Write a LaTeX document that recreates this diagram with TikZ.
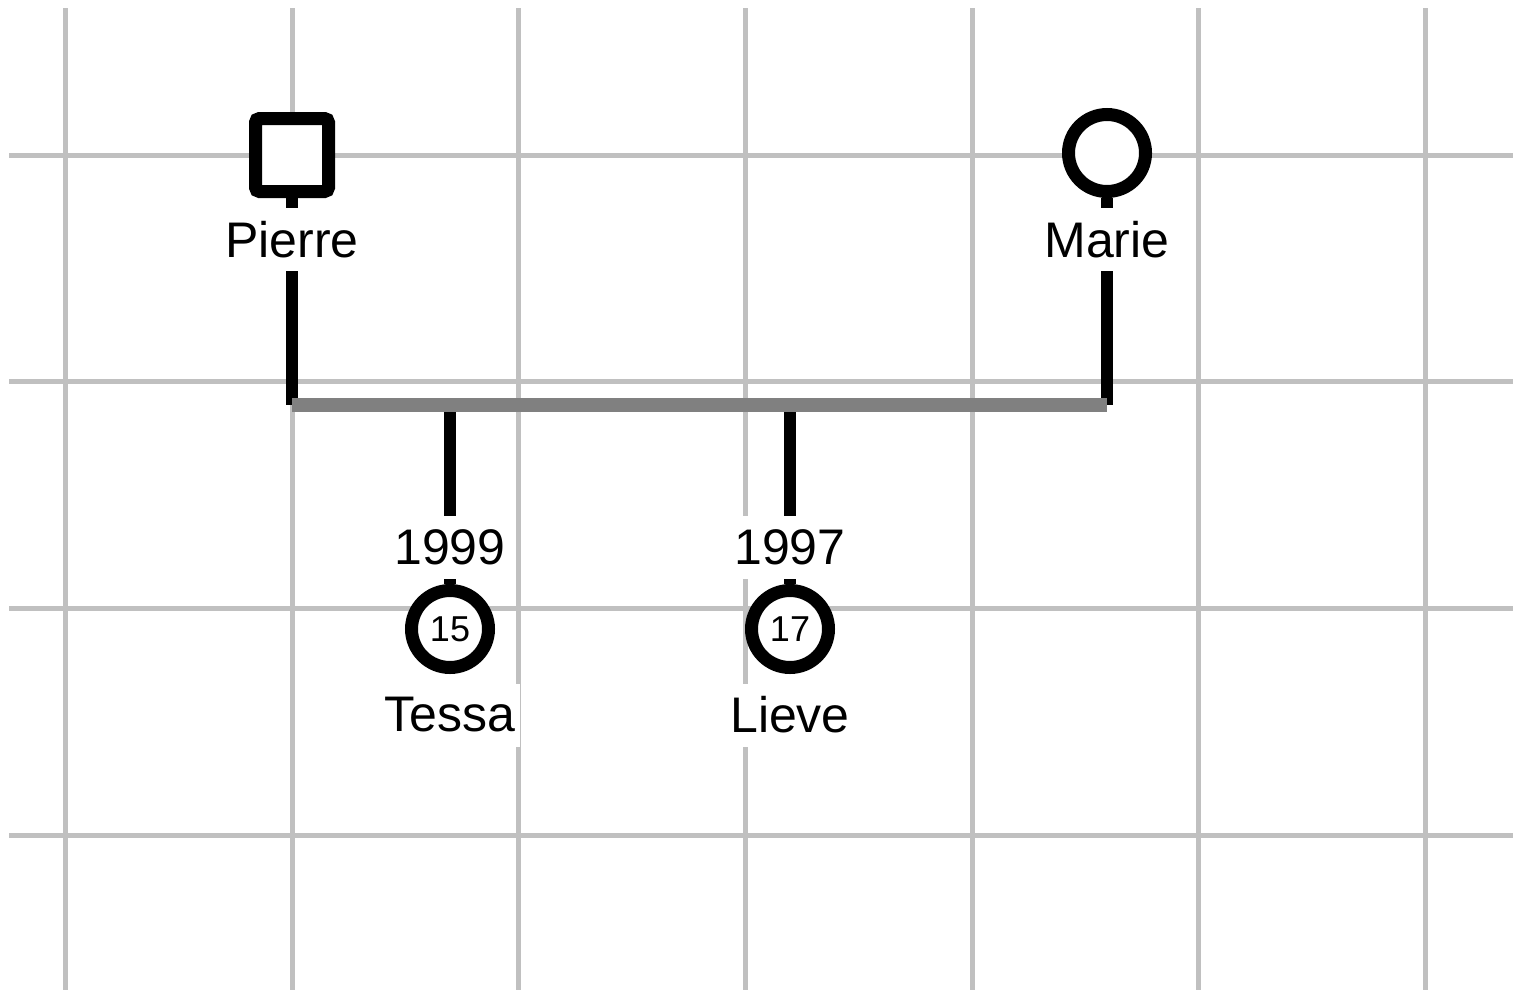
\documentclass[tikz,border=0pt]{standalone}
\usepackage{fontspec}
\setmainfont{Liberation Sans}
\definecolor{gridgray}{RGB}{192,192,192}
\definecolor{bargray}{RGB}{128,128,128}
\pgfdeclarelayer{gridlayer}
\pgfdeclarelayer{links}
\pgfsetlayers{gridlayer,links,main}

\begin{document}
\begin{tikzpicture}[x=1bp,y=-1bp,
  gridline/.style={draw=gridgray,line width=5bp},
  person/.style={draw=black,line width=13bp,fill=white,inner sep=0pt},
  male/.style={person,rectangle,minimum size=73bp,rounded corners=4bp},
  female/.style={person,circle,minimum size=77bp,font=\fontsize{36bp}{40bp}\selectfont},
  tag/.style={fill=white,inner xsep=5bp,inner ysep=0pt,minimum height=63bp,
    font=\fontsize{50bp}{60bp}\selectfont},
  link/.style={draw=black,line width=12.7bp},
  union/.style={draw=bargray,line width=14bp}
]
\useasboundingbox (0,0) rectangle (1519,990);

% background grid
\begin{pgfonlayer}{gridlayer}
  \foreach \k in {0,...,6}
    \draw[gridline] ({65.5+226.67*\k},8) -- ++(0,982);
  \foreach \k in {0,...,3}
    \draw[gridline] (9,{155+226.67*\k}) -- (1513,{155+226.67*\k});
\end{pgfonlayer}

% parents
\node[male] (pierre) at (292,155) {};
\node[female] (marie) at (1107,153) {};
\node[tag] (pierre-name) at (292,239.5) {Pierre};
\node[tag] (marie-name) at (1107,239.5) {Marie};

% children
\node[female] (tessa) at (450,629) {15};
\node[tag] (tessa-year) at (450,547.5) {1999};
\node[tag] (tessa-name) at (450,715) {Tessa};

\node[female] (lieve) at (790,629) {17};
\node[tag] (lieve-year) at (790,547.5) {1997};
\node[tag] (lieve-name) at (790,715) {Lieve};

% union bar ends
\coordinate (bar-l) at (292,404.7);
\coordinate (bar-r) at (1107,404.7);

\begin{pgfonlayer}{links}
  \draw[link] (pierre.south) -- (bar-l);
  \draw[link] (marie.south) -- (bar-r);
  \draw[link] (tessa.north) -- (tessa.north |- bar-l);
  \draw[link] (lieve.north) -- (lieve.north |- bar-l);
  \draw[union] (bar-l) -- (bar-r);
\end{pgfonlayer}
\end{tikzpicture}
\end{document}
